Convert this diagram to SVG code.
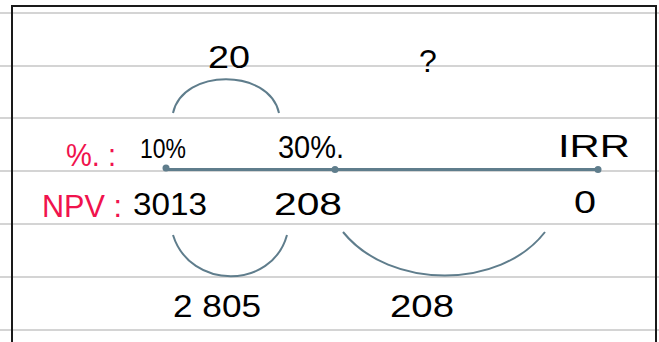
<svg xmlns="http://www.w3.org/2000/svg" width="659" height="342" viewBox="0 0 659 342">
<style>
.rule{stroke:#d4d4d4;stroke-width:2;fill:none}
.arc{stroke:#5f7d8c;stroke-width:2;fill:none}
.axis{stroke:#5f7d8c;stroke-width:3;fill:none}
.dot{fill:#5f7d8c}
.t{font-family:"Liberation Sans",Arial,sans-serif;font-size:32px;fill:#000}
.r{fill:#f0134d}
</style>
<rect width="659" height="342" fill="#fff"/>
<g id="paper">
<line class="rule" x1="0" y1="13" x2="659" y2="13"/>
<line class="rule" x1="0" y1="66" x2="659" y2="66"/>
<line class="rule" x1="0" y1="118" x2="659" y2="118"/>
<line class="rule" x1="0" y1="171" x2="659" y2="171"/>
<line class="rule" x1="0" y1="224" x2="659" y2="224"/>
<line class="rule" x1="0" y1="277" x2="659" y2="277"/>
<line class="rule" x1="0" y1="330" x2="659" y2="330"/>
<path d="M12,342 V6 H656 V342" fill="none" stroke="#1a1a1a" stroke-width="2"/>
</g>
<g id="connectors">
<line class="axis" x1="165" y1="169.5" x2="598" y2="169.5"/>
<path class="arc" d="M173,113 C183,68 269,68 279,113"/>
<path class="arc" d="M173,235 C190,290 272,290 287,235"/>
<path class="arc" d="M343,232 C390,290 500,290 545,232"/>
</g>
<g id="node-10">
<circle class="dot" cx="166" cy="168" r="3.5"/>
<text class="t" x="140" y="158" style="font-size:28px" textLength="46" lengthAdjust="spacingAndGlyphs">10%</text>
</g>
<g id="node-30">
<circle class="dot" cx="335" cy="169.5" r="3.5"/>
<text class="t" x="278" y="158" textLength="66" lengthAdjust="spacingAndGlyphs">30%.</text>
</g>
<g id="node-irr">
<circle class="dot" cx="598" cy="169.5" r="3.5"/>
<text class="t" x="558" y="157" textLength="72" lengthAdjust="spacingAndGlyphs">IRR</text>
</g>
<g id="labels">
<text class="t r" x="66" y="166" textLength="50" lengthAdjust="spacingAndGlyphs">%. :</text>
<text class="t r" x="42" y="217" textLength="80" lengthAdjust="spacingAndGlyphs">NPV :</text>
<text class="t" x="133" y="215" textLength="74" lengthAdjust="spacingAndGlyphs">3013</text>
<text class="t" x="274" y="215" textLength="68" lengthAdjust="spacingAndGlyphs">208</text>
<text class="t" x="574" y="213" textLength="22" lengthAdjust="spacingAndGlyphs">0</text>
<text class="t" x="208" y="68" textLength="42" lengthAdjust="spacingAndGlyphs">20</text>
<text class="t" x="419" y="72">?</text>
<text class="t" x="173" y="317" textLength="88" lengthAdjust="spacingAndGlyphs">2 805</text>
<text class="t" x="390" y="317" textLength="64" lengthAdjust="spacingAndGlyphs">208</text>
</g>
</svg>
